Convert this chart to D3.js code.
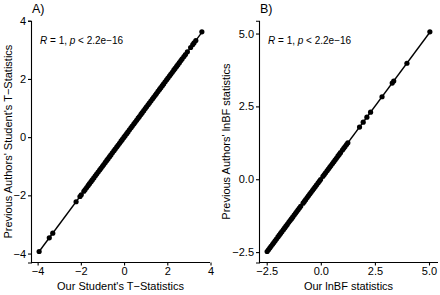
<!DOCTYPE html>
<html>
<head>
<meta charset="utf-8">
<script src="https://cdn.jsdelivr.net/npm/d3@7"></script>
<style>
  body { margin: 0; background: #fff; }
  text { font-family: "Liberation Sans", Arial, sans-serif; fill: #000; }
</style>
</head>
<body>
<svg id="chart" width="440" height="295"></svg>
<script>
// panel A: Student's t statistics (ours vs previous authors)
const ourT = [-3.93, -3.46, -3.30, -2.22, -2.04, -1.98,
  -1.86, -1.80, -1.73, -1.66, -1.60, -1.53, -1.47, -1.40, -1.33, -1.27, -1.20, -1.13, -1.07, -1.00,
  -0.94, -0.87, -0.80, -0.74, -0.67, -0.61, -0.54, -0.47, -0.41, -0.34, -0.28, -0.21, -0.14, -0.08,
  -0.01, 0.05, 0.12, 0.18, 0.25, 0.32, 0.38, 0.45, 0.51, 0.58, 0.65, 0.71, 0.78, 0.84, 0.91, 0.98,
  1.04, 1.11, 1.17, 1.24, 1.31, 1.37, 1.44, 1.50, 1.57, 1.64, 1.70, 1.77, 1.83, 1.90, 1.97, 2.03,
  2.10, 2.16, 2.23, 2.30, 2.36, 2.43, 2.49, 2.56, 2.63, 2.69, 2.77,
  2.84, 2.93, 3.08, 3.18, 3.24, 3.32, 3.60];
const prevT = [-3.93, -3.46, -3.30, -2.22, -2.04, -1.98,
  -1.86, -1.80, -1.73, -1.66, -1.60, -1.53, -1.47, -1.40, -1.33, -1.27, -1.20, -1.13, -1.07, -1.00,
  -0.94, -0.87, -0.80, -0.74, -0.67, -0.61, -0.54, -0.47, -0.41, -0.34, -0.28, -0.21, -0.14, -0.08,
  -0.01, 0.05, 0.12, 0.18, 0.25, 0.32, 0.38, 0.45, 0.51, 0.58, 0.65, 0.71, 0.78, 0.84, 0.91, 0.98,
  1.04, 1.11, 1.17, 1.24, 1.31, 1.37, 1.44, 1.50, 1.57, 1.64, 1.70, 1.77, 1.83, 1.90, 1.97, 2.03,
  2.10, 2.16, 2.23, 2.30, 2.36, 2.43, 2.49, 2.56, 2.63, 2.69, 2.77,
  2.84, 2.93, 3.08, 3.18, 3.24, 3.32, 3.62];

// panel B: lnBF statistics
const ourBF = [-2.48, -2.42, -2.36, -2.30, -2.23, -2.17, -2.11, -2.05, -1.98, -1.92, -1.86, -1.80,
  -1.73, -1.67, -1.61, -1.55, -1.48, -1.42, -1.36, -1.30, -1.23, -1.17, -1.11, -1.05, -0.99, -0.93,
  -0.82, -0.76, -0.70, -0.63, -0.57, -0.51, -0.45, -0.38, -0.32, -0.26, -0.20, -0.13, -0.07, -0.01,
  0.10, 0.16, 0.22, 0.29, 0.35, 0.41, 0.47, 0.54, 0.60, 0.66, 0.72, 0.79, 0.85, 0.91, 1.00, 1.06,
  1.12, 1.19, 1.25,
  1.79, 1.96, 2.13, 2.30, 2.83, 3.30, 3.37, 3.98, 5.04];
const prevBF = [-2.48, -2.42, -2.36, -2.30, -2.23, -2.17, -2.11, -2.05, -1.98, -1.92, -1.86, -1.80,
  -1.73, -1.67, -1.61, -1.55, -1.48, -1.42, -1.36, -1.30, -1.23, -1.17, -1.11, -1.05, -0.99, -0.93,
  -0.82, -0.76, -0.70, -0.63, -0.57, -0.51, -0.45, -0.38, -0.32, -0.26, -0.20, -0.13, -0.07, -0.01,
  0.10, 0.16, 0.22, 0.29, 0.35, 0.41, 0.47, 0.54, 0.60, 0.66, 0.72, 0.79, 0.85, 0.91, 1.00, 1.06,
  1.12, 1.19, 1.25,
  1.79, 1.96, 2.13, 2.30, 2.83, 3.30, 3.37, 3.98, 5.06];

const ticksT = [-4, -2, 0, 2, 4];
const ticksBF = [-2.5, 0, 2.5, 5];

const svg = d3.select("#chart");

// ggplot style 5% expansion
function expand(vals) {
  let [lo, hi] = d3.extent(vals);
  let pad = (hi - lo) * 0.05;
  return [lo - pad, hi + pad];
}

function panel(opts) {
  let xs = d3.scaleLinear().domain(expand(opts.xv)).range([opts.left, opts.right]);
  let ys = d3.scaleLinear().domain(expand(opts.yv)).range([262.5, 20.8]);
  let g = svg.append("g");

  // axes
  let xAxis = d3.axisBottom(xs).tickValues(opts.ticks).tickFormat(opts.fmt).tickSizeOuter(0).tickSize(3).tickPadding(2);
  let yAxis = d3.axisLeft(ys).tickValues(opts.ticks).tickFormat(opts.fmt).tickSizeOuter(0).tickSize(3).tickPadding(2);
  let gx = g.append("g").attr("transform", "translate(0,262.5)").call(xAxis);
  let gy = g.append("g").attr("transform", "translate(" + opts.left + ",0)").call(yAxis);
  [gx, gy].forEach(a => {
    a.select(".domain").attr("stroke", "#000").attr("stroke-width", 1.1);
    a.selectAll(".tick line").attr("stroke", "#000").attr("stroke-width", 1.1);
    a.selectAll(".tick text").style("font-size", "11px").attr("fill", "#000");
  });
  // the axis lines span the whole panel
  gx.select(".domain").attr("d", "M" + opts.left + ",0H" + opts.right);

  // linear fit
  let pts = opts.xv.map((v, i) => [v, opts.yv[i]]);
  let mx = d3.mean(opts.xv), my = d3.mean(opts.yv);
  let b = d3.sum(pts, p => (p[0] - mx) * (p[1] - my)) / d3.sum(pts, p => (p[0] - mx) * (p[0] - mx));
  let a0 = my - b * mx;
  let ext = d3.extent(opts.xv);
  g.append("path")
    .datum(ext.map(v => [v, a0 + b * v]))
    .attr("fill", "none").attr("stroke", "#000").attr("stroke-width", 1.4)
    .attr("d", d3.line().x(d => xs(d[0])).y(d => ys(d[1])));

  g.selectAll("circle").data(pts).join("circle")
    .attr("cx", d => xs(d[0])).attr("cy", d => ys(d[1]))
    .attr("r", 2.6).attr("fill", "#000");

  // panel tag
  g.append("text").attr("x", opts.left + 1).attr("y", 13).style("font-size", "12.5px").text(opts.tag);

  // correlation label
  let lab = g.append("text").attr("x", opts.left + 9).attr("y", 43.5).style("font-size", "10px");
  lab.append("tspan").style("font-style", "italic").text("R");
  lab.append("tspan").text(" = 1, ");
  lab.append("tspan").style("font-style", "italic").text("p");
  lab.append("tspan").text(" < 2.2e\u221216");

  // axis titles
  g.append("text").attr("x", (opts.left + opts.right) / 2).attr("y", 290)
    .attr("text-anchor", "middle").style("font-size", "11px").text(opts.xTitle);
  g.append("text").attr("transform", "translate(" + opts.yTitleX + ",141.6) rotate(-90)")
    .attr("text-anchor", "middle").style("font-size", "11px").text(opts.yTitle);
}

panel({
  xv: ourT, yv: prevT, left: 31, right: 210, ticks: ticksT, fmt: d3.format("d"),
  tag: "A)", xTitle: "Our Student's T\u2212Statistics",
  yTitle: "Previous Authors' Student's T\u2212Statistics", yTitleX: 12
});
panel({
  xv: ourBF, yv: prevBF, left: 259, right: 438, ticks: ticksBF, fmt: d3.format(".1f"),
  tag: "B)", xTitle: "Our lnBF statistics",
  yTitle: "Previous Authors' lnBF statistics", yTitleX: 230
});
</script>
</body>
</html>
